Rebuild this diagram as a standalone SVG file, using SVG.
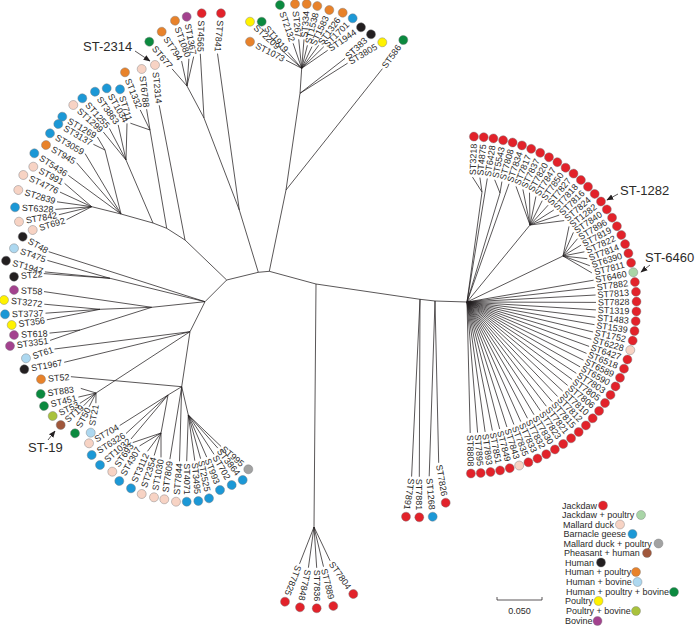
<svg xmlns="http://www.w3.org/2000/svg" width="696" height="631" viewBox="0 0 696 631">
<style>
.l{stroke:#231f20;stroke-width:0.75;fill:none}
text{font-family:"Liberation Sans",Arial,sans-serif;font-size:9px;fill:#2b2a29}
.e{text-anchor:end}
.big{font-size:13px}
circle{stroke:#77787b;stroke-width:0.4}
.r{fill:#e2222a}.p{fill:#f7d3c4}.b{fill:#1c98d6}.k{fill:#231f20}.o{fill:#e8822a}.g{fill:#0b8a3f}.y{fill:#fff200}.lb{fill:#add8f0}.gr{fill:#a2a2a2}.br{fill:#a0573b}.ol{fill:#a9c23c}.pu{fill:#a3428e}.jp{fill:#a9d5a7}
</style>
<defs>
<marker id="ah" viewBox="0 0 10 10" refX="9" refY="5" markerWidth="7" markerHeight="7" orient="auto" markerUnits="userSpaceOnUse"><path d="M0,1L10,5L0,9z" fill="#231f20"/></marker>
</defs>
<rect width="696" height="631" fill="#fff"/>
<g id="connectors" class="l">
<path d="M226.7,280L185,240M226.7,280L205,301.7M226.7,280L258.3,272.3L269.3,271.3M258.3,272.3L239.3,210M269.3,271.3L316,284L420,299.3L435,301L467,302M269.3,271.3L286,190L300,93.3L301.7,68.3M286,190L382.4,68.7M300,93.3L345,58.4M300,93.3L347.6,63.2"/>
<path d="M301.7,68.3L286,60.2M301.7,68.3L280.1,48.8M301.7,68.3L288.1,52.4M301.7,68.3L293.1,43.3M301.7,68.3L298.7,39.3M301.7,68.3L304,39.4M301.7,68.3L307.4,45.3M301.7,68.3L312,46.6M301.7,68.3L318.7,45.3M301.7,68.3L323.8,46.7M301.7,68.3L327.7,50.3"/>
<path d="M239.3,210L217.5,53.6M239.3,210L204,118L200.3,53.8M204,118L187,86L193.7,56.6M187,86L188.9,58.8M187,86L181.6,61.1M187,86L172.1,68.9"/>
<path d="M185,240L159.2,105.3M185,240L166.7,228.3L150,130L146.6,109.2M150,130L140.2,109.9M150,130L130.4,123.2M166.7,228.3L153,223L126,160L127,123.4M126,160L118.2,124.9M126,160L109.4,128.4M126,160L103.4,132.1M153,223L121,214L105,150L97.4,137M105,150L93.4,144.3M121,214L85.1,153.6M121,214L76.7,162.8M121,214L68.3,175.4M121,214L91.7,206.7L64.6,183.4M91.7,206.7L60,192.1M91.7,206.7L57,201.8M91.7,206.7L55.4,209.4M91.7,206.7L58.9,214.7M91.7,206.7L66.6,219.6"/>
<path d="M205,301.7L48.7,251.7M205,301.7L110,278.3L47.4,260.4M110,278.3L44.9,271.9M110,278.3L43.8,273.6M205,301.7L151.7,307.3L44,291.6M151.7,307.3L100,309.3L44.3,304.2M100,309.3L45.5,313.2M100,309.3L46.8,319.8M151.7,307.3L80,330L49.5,333.1M80,330L50.1,340.4"/>
<path d="M205,301.7L190,331.7L181.7,386.7L188.3,415M190,331.7L54.5,349M190,331.7L64.2,362.3M190,331.7L96,393L80.8,388.4M96,393L78.4,397.1M96,393L79.9,403.3M96,393L83.7,405.7M96,393L89.1,406.8M96,393L95.9,403.2M181.7,386.7L70.9,376.7"/>
<path d="M181.7,386.7L168,395L119.7,425.5M168,395L126,433.5M168,395L131,439M168,395L161,433L132.7,442.6M161,433L139.6,445.9M161,433L147.5,451.3M161,433L154.2,455.5M161,433L161,457.4M181.7,386.7L169.9,459.2M181.7,386.7L179.5,461.3M188.3,415L186.7,461.2M188.3,415L194.8,460.7M188.3,415L200.6,458.7M188.3,415L206.7,457.1M188.3,415L214,454.3M188.3,415L217.8,448.1M188.3,415L221.1,446.5"/>
<path d="M316,284L314,527L299.5,563.9M314,527L308.4,567.7M314,527L316.7,567.8M314,527L323.5,566.7M314,527L330.1,560.8M420,299.3L411.6,476.6M420,299.3L419.3,476.8M435,301L429.2,476.3M435,301L438.7,462.8"/>
<path d="M472.5,177.1L482,192M479.9,177.6L482,192M482,192L467,302M487.3,178.5L467,302M494.7,179.8L500,193M501.9,181.6L500,193M500,193L467,302M509,183.8L467,302M516,186.4L530,225M522.9,189.4L530,225M529.5,192.7L530,225M535.9,196.5L530,225M542.2,200.7L530,225M548.1,205.2L530,225M553.8,210L530,225M559.2,215.1L530,225M564.2,220.6L530,225M530,225L467,302M569,226.4L563,256M573.4,232.4L563,256M577.5,238.7L563,256M581.1,245.1L563,256M584.4,251.8L563,256M587.3,258.7L563,256M589.8,265.7L563,256M591.9,272.9L563,256M563,256L467,302"/>
<path d="M467,302L593.6,280.2M467,302L594.8,287.5M467,302L595.6,295M467,302L596,302.4M467,302L595.9,309.9M467,302L595.4,317.3M467,302L594.5,324.7M467,302L593.1,332M467,302L591.3,339.3M467,302L589.1,346.4M467,302L586.5,353.4M467,302L583.5,360.2M467,302L580.1,366.9M467,302L576.3,373.3M467,302L572.1,379.5M467,302L567.6,385.4M467,302L562.7,391.1M467,302L557.6,396.5M467,302L552.1,401.5M467,302L546.3,406.2M467,302L540.3,410.6M467,302L534,414.7M467,302L527.5,418.3M467,302L520.8,421.6M467,302L513.9,424.5M467,302L506.9,427M467,302L499.7,429M467,302L492.4,430.6M467,302L485.1,431.9M467,302L477.6,432.6M467,302L470.2,433"/>
</g>
<g id="top-cluster">
<g id="n-ST1073" transform="translate(250,41.7) rotate(27.2)"><circle class="o" r="4.5"/><text x="7" dy=".35em">ST1073</text></g>
<g id="n-ST2209" transform="translate(250,21.7) rotate(42)"><circle class="y" r="4.5"/><text x="7" dy=".35em">ST2209</text></g>
<g id="n-ST1919" transform="translate(261.7,21.7) rotate(49.4)"><circle class="g" r="4.5"/><text x="7" dy=".35em">ST1919</text></g>
<g id="n-ST2132" transform="translate(280,5) rotate(71.1)"><circle class="g" r="4.5"/><text x="7" dy=".35em">ST2132</text></g>
<g id="n-ST267" transform="translate(295,4) rotate(84.1)"><circle class="o" r="4.5"/><text x="7" dy=".35em">ST267</text></g>
<g id="n-ST334" transform="translate(306.7,4) rotate(-85.6)"><circle class="o" r="4.5"/><text x="-7" dy=".35em" class="e">ST334</text></g>
<g id="n-ST1538" transform="translate(317.3,6) rotate(-75.9)"><circle class="o" r="4.5"/><text x="-7" dy=".35em" class="e">ST1538</text></g>
<g id="n-ST1583" transform="translate(329.3,10) rotate(-64.7)"><circle class="o" r="4.5"/><text x="-7" dy=".35em" class="e">ST1583</text></g>
<g id="n-ST1326" transform="translate(342.7,12.7) rotate(-53.6)"><circle class="o" r="4.5"/><text x="-7" dy=".35em" class="e">ST1326</text></g>
<g id="n-ST1701" transform="translate(352.7,18.3) rotate(-44.4)"><circle class="b" r="4.5"/><text x="-7" dy=".35em" class="e">ST1701</text></g>
<g id="n-ST1944" transform="translate(361,27.3) rotate(-34.7)"><circle class="k" r="4.5"/><text x="-7" dy=".35em" class="e">ST1944</text></g>
<g id="n-ST383" transform="translate(371,34.3) rotate(-43)"><circle class="k" r="4.5"/><text x="-7" dy=".35em" class="e">ST383</text></g>
<g id="n-ST3805" transform="translate(382.3,42.3) rotate(-31)"><circle class="y" r="4.5"/><text x="-7" dy=".35em" class="e">ST3805</text></g>
<g id="n-ST586" transform="translate(403.3,40) rotate(-54)"><circle class="g" r="4.5"/><text x="-7" dy=".35em" class="e">ST586</text></g>
</g>
<g id="left-cluster">
<g id="n-ST7841" transform="translate(221,13.3) rotate(95)"><circle class="r" r="4.5"/><text x="7" dy=".35em">ST7841</text></g>
<g id="n-ST4565" transform="translate(201.7,13.3) rotate(92)"><circle class="r" r="4.5"/><text x="7" dy=".35em">ST4565</text></g>
<g id="n-ST1367" transform="translate(186.7,16.7) rotate(80)"><circle class="pu" r="4.5"/><text x="7" dy=".35em">ST1367</text></g>
<g id="n-ST1080" transform="translate(175,20.7) rotate(70)"><circle class="o" r="4.5"/><text x="7" dy=".35em">ST1080</text></g>
<g id="n-ST794" transform="translate(161.7,31.7) rotate(56)"><circle class="o" r="4.5"/><text x="7" dy=".35em">ST794</text></g>
<g id="n-ST677" transform="translate(149.3,41.7) rotate(50)"><circle class="g" r="4.5"/><text x="7" dy=".35em">ST677</text></g>
<g id="n-ST2314" transform="translate(155,65) rotate(84)"><circle class="p" r="4.5"/><text x="7" dy=".35em">ST2314</text></g>
<g id="n-ST6788" transform="translate(141.7,69) rotate(83)"><circle class="p" r="4.5"/><text x="7" dy=".35em">ST6788</text></g>
<g id="n-ST1332" transform="translate(125,72.3) rotate(68)"><circle class="o" r="4.5"/><text x="7" dy=".35em">ST1332</text></g>
<g id="n-ST711" transform="translate(120,89.3) rotate(73)"><circle class="b" r="4.5"/><text x="7" dy=".35em">ST711</text></g>
<g id="n-ST1034" transform="translate(106.7,88.3) rotate(60)"><circle class="b" r="4.5"/><text x="7" dy=".35em">ST1034</text></g>
<g id="n-ST3863" transform="translate(95,91.7) rotate(55)"><circle class="b" r="4.5"/><text x="7" dy=".35em">ST3863</text></g>
<g id="n-ST1255" transform="translate(82.3,98.3) rotate(48)"><circle class="b" r="4.5"/><text x="7" dy=".35em">ST1255</text></g>
<g id="n-ST1299" transform="translate(73.3,105) rotate(42)"><circle class="p" r="4.5"/><text x="7" dy=".35em">ST1299</text></g>
<g id="n-ST1269" transform="translate(62.3,116.7) rotate(30)"><circle class="b" r="4.5"/><text x="7" dy=".35em">ST1269</text></g>
<g id="n-ST3137" transform="translate(58.3,124) rotate(30)"><circle class="b" r="4.5"/><text x="7" dy=".35em">ST3137</text></g>
<g id="n-ST3059" transform="translate(50,133.3) rotate(30)"><circle class="b" r="4.5"/><text x="7" dy=".35em">ST3059</text></g>
<g id="n-ST945" transform="translate(46,145) rotate(30)"><circle class="o" r="4.5"/><text x="7" dy=".35em">ST945</text></g>
<g id="n-ST5436" transform="translate(34.3,153.3) rotate(33)"><circle class="b" r="4.5"/><text x="7" dy=".35em">ST5436</text></g>
<g id="n-ST991" transform="translate(33.3,166.7) rotate(28)"><circle class="p" r="4.5"/><text x="7" dy=".35em">ST991</text></g>
<g id="n-ST4776" transform="translate(23.3,175) rotate(25)"><circle class="p" r="4.5"/><text x="7" dy=".35em">ST4776</text></g>
<g id="n-ST2839" transform="translate(18.3,190) rotate(17)"><circle class="p" r="4.5"/><text x="7" dy=".35em">ST2839</text></g>
<g id="n-ST6328" transform="translate(15,207.3) rotate(3)"><circle class="b" r="4.5"/><text x="7" dy=".35em">ST6328</text></g>
<g id="n-ST7842" transform="translate(19,221.7) rotate(-10)"><circle class="p" r="4.5"/><text x="7" dy=".35em">ST7842</text></g>
<g id="n-ST692" transform="translate(32.7,230) rotate(-17)"><circle class="p" r="4.5"/><text x="7" dy=".35em">ST692</text></g>
<g id="n-ST48" transform="translate(22.7,236.7) rotate(30)"><circle class="k" r="4.5"/><text x="7" dy=".35em">ST48</text></g>
<g id="n-ST475" transform="translate(14,248.3) rotate(20)"><circle class="lb" r="4.5"/><text x="7" dy=".35em">ST475</text></g>
<g id="n-ST1947" transform="translate(6,260.7) rotate(16)"><circle class="k" r="4.5"/><text x="7" dy=".35em">ST1947</text></g>
<g id="n-ST22" transform="translate(14,276.7) rotate(-6)"><circle class="k" r="4.5"/><text x="7" dy=".35em">ST22</text></g>
<g id="n-ST58" transform="translate(14,290) rotate(3)"><circle class="pu" r="4.5"/><text x="7" dy=".35em">ST58</text></g>
<g id="n-ST3272" transform="translate(4,300) rotate(6)"><circle class="y" r="4.5"/><text x="7" dy=".35em">ST3272</text></g>
<g id="n-ST3737" transform="translate(5,314.3) rotate(-1.5)"><circle class="b" r="4.5"/><text x="7" dy=".35em">ST3737</text></g>
<g id="n-ST356" transform="translate(11.7,325) rotate(-8.5)"><circle class="y" r="4.5"/><text x="7" dy=".35em">ST356</text></g>
<g id="n-ST618" transform="translate(14,335) rotate(-3)"><circle class="pu" r="4.5"/><text x="7" dy=".35em">ST618</text></g>
<g id="n-ST3351" transform="translate(10,346) rotate(-8)"><circle class="pu" r="4.5"/><text x="7" dy=".35em">ST3351</text></g>
<g id="n-ST61" transform="translate(26,358.3) rotate(-18)"><circle class="lb" r="4.5"/><text x="7" dy=".35em">ST61</text></g>
<g id="n-ST1967" transform="translate(24.3,369.3) rotate(-10)"><circle class="k" r="4.5"/><text x="7" dy=".35em">ST1967</text></g>
<g id="n-ST52" transform="translate(41,379.3) rotate(-5)"><circle class="o" r="4.5"/><text x="7" dy=".35em">ST52</text></g>
<g id="n-ST883" transform="translate(40.7,394) rotate(-8)"><circle class="g" r="4.5"/><text x="7" dy=".35em">ST883</text></g>
<g id="n-ST451" transform="translate(44,406) rotate(-14.5)"><circle class="g" r="4.5"/><text x="7" dy=".35em">ST451</text></g>
<g id="n-ST53" transform="translate(52.7,416) rotate(-25)"><circle class="ol" r="4.5"/><text x="7" dy=".35em">ST53</text></g>
<g id="n-ST19" transform="translate(60.7,425) rotate(-40)"><circle class="br" r="4.5"/><text x="7" dy=".35em">ST19</text></g>
<g id="n-ST50" transform="translate(75,433.3) rotate(-62)"><circle class="g" r="4.5"/><text x="7" dy=".35em">ST50</text></g>
<g id="n-ST21" transform="translate(90.7,432.7) rotate(-80)"><circle class="lb" r="4.5"/><text x="7" dy=".35em">ST21</text></g>
<g id="n-ST704" transform="translate(89,443.3) rotate(-30)"><circle class="p" r="4.5"/><text x="7" dy=".35em">ST704</text></g>
<g id="n-ST6326" transform="translate(91.7,455) rotate(-32)"><circle class="b" r="4.5"/><text x="7" dy=".35em">ST6326</text></g>
<g id="n-ST1032" transform="translate(100,465) rotate(-40)"><circle class="b" r="4.5"/><text x="7" dy=".35em">ST1032</text></g>
<g id="n-ST693" transform="translate(112.3,471.7) rotate(-55)"><circle class="p" r="4.5"/><text x="7" dy=".35em">ST693</text></g>
<g id="n-ST4307" transform="translate(119.3,481) rotate(-60)"><circle class="b" r="4.5"/><text x="7" dy=".35em">ST4307</text></g>
<g id="n-ST3112" transform="translate(131,488.3) rotate(-66)"><circle class="b" r="4.5"/><text x="7" dy=".35em">ST3112</text></g>
<g id="n-ST2354" transform="translate(141.7,494) rotate(-72)"><circle class="p" r="4.5"/><text x="7" dy=".35em">ST2354</text></g>
<g id="n-ST1030" transform="translate(154,497.3) rotate(-80)"><circle class="p" r="4.5"/><text x="7" dy=".35em">ST1030</text></g>
<g id="n-ST7809" transform="translate(164.3,499.3) rotate(-82)"><circle class="p" r="4.5"/><text x="7" dy=".35em">ST7809</text></g>
<g id="n-ST7844" transform="translate(176,501.7) rotate(-85)"><circle class="p" r="4.5"/><text x="7" dy=".35em">ST7844</text></g>
<g id="n-ST4071" transform="translate(186.7,501.7) rotate(90)"><circle class="b" r="4.5"/><text x="-7" dy=".35em" class="e">ST4071</text></g>
<g id="n-ST3495" transform="translate(198.3,501) rotate(85)"><circle class="b" r="4.5"/><text x="-7" dy=".35em" class="e">ST3495</text></g>
<g id="n-ST2525" transform="translate(209,498.3) rotate(78)"><circle class="b" r="4.5"/><text x="-7" dy=".35em" class="e">ST2525</text></g>
<g id="n-ST993" transform="translate(220,490) rotate(68)"><circle class="b" r="4.5"/><text x="-7" dy=".35em" class="e">ST993</text></g>
<g id="n-ST702" transform="translate(231.7,485) rotate(60)"><circle class="b" r="4.5"/><text x="-7" dy=".35em" class="e">ST702</text></g>
<g id="n-ST3864" transform="translate(242.7,480) rotate(52)"><circle class="b" r="4.5"/><text x="-7" dy=".35em" class="e">ST3864</text></g>
<g id="n-ST995" transform="translate(248.3,469.3) rotate(40)"><circle class="gr" r="4.5"/><text x="-7" dy=".35em" class="e">ST995</text></g>
</g>
<g id="bottom-cluster">
<g id="n-ST7825" transform="translate(285,601.7) rotate(111)"><circle class="r" r="4.5"/><text x="-7" dy=".35em" class="e">ST7825</text></g>
<g id="n-ST7848" transform="translate(300,607.3) rotate(102)"><circle class="r" r="4.5"/><text x="-7" dy=".35em" class="e">ST7848</text></g>
<g id="n-ST7836" transform="translate(316.7,608.3) rotate(90)"><circle class="r" r="4.5"/><text x="-7" dy=".35em" class="e">ST7836</text></g>
<g id="n-ST7889" transform="translate(333.3,606) rotate(76)"><circle class="r" r="4.5"/><text x="-7" dy=".35em" class="e">ST7889</text></g>
<g id="n-ST7804" transform="translate(353.3,594) rotate(55)"><circle class="r" r="4.5"/><text x="-7" dy=".35em" class="e">ST7804</text></g>
<g id="n-ST7891" transform="translate(406,516.7) rotate(98)"><circle class="r" r="4.5"/><text x="-7" dy=".35em" class="e">ST7891</text></g>
<g id="n-ST7881" transform="translate(419.3,517.3) rotate(90)"><circle class="r" r="4.5"/><text x="-7" dy=".35em" class="e">ST7881</text></g>
<g id="n-ST1268" transform="translate(432.7,516.7) rotate(85)"><circle class="b" r="4.5"/><text x="-7" dy=".35em" class="e">ST1268</text></g>
<g id="n-ST7826" transform="translate(445.7,502.7) rotate(80)"><circle class="r" r="4.5"/><text x="-7" dy=".35em" class="e">ST7826</text></g>
</g>
<g id="right-cluster">
<g id="n-ST3218" transform="translate(473.9,136.6) rotate(-88)"><circle class="r" r="4.5"/><text x="-7" dy=".35em" class="e">ST3218</text></g>
<g id="n-ST4875" transform="translate(483.7,137.2) rotate(-84.66)"><circle class="r" r="4.5"/><text x="-7" dy=".35em" class="e">ST4875</text></g>
<g id="n-ST6428" transform="translate(493.4,138.4) rotate(-81.32)"><circle class="r" r="4.5"/><text x="-7" dy=".35em" class="e">ST6428</text></g>
<g id="n-ST5543" transform="translate(503.1,140.2) rotate(-77.98)"><circle class="r" r="4.5"/><text x="-7" dy=".35em" class="e">ST5543</text></g>
<g id="n-ST7808" transform="translate(512.6,142.5) rotate(-74.64)"><circle class="r" r="4.5"/><text x="-7" dy=".35em" class="e">ST7808</text></g>
<g id="n-ST7834" transform="translate(522,145.4) rotate(-71.3)"><circle class="r" r="4.5"/><text x="-7" dy=".35em" class="e">ST7834</text></g>
<g id="n-ST7817" transform="translate(531.2,148.8) rotate(-67.96)"><circle class="r" r="4.5"/><text x="-7" dy=".35em" class="e">ST7817</text></g>
<g id="n-ST7837" transform="translate(540.2,152.8) rotate(-64.62)"><circle class="r" r="4.5"/><text x="-7" dy=".35em" class="e">ST7837</text></g>
<g id="n-ST7820" transform="translate(549,157.2) rotate(-61.28)"><circle class="r" r="4.5"/><text x="-7" dy=".35em" class="e">ST7820</text></g>
<g id="n-ST7847" transform="translate(557.4,162.2) rotate(-57.94)"><circle class="r" r="4.5"/><text x="-7" dy=".35em" class="e">ST7847</text></g>
<g id="n-ST7850" transform="translate(565.6,167.7) rotate(-54.6)"><circle class="r" r="4.5"/><text x="-7" dy=".35em" class="e">ST7850</text></g>
<g id="n-ST7827" transform="translate(573.5,173.6) rotate(-51.26)"><circle class="r" r="4.5"/><text x="-7" dy=".35em" class="e">ST7827</text></g>
<g id="n-ST7818" transform="translate(580.9,180) rotate(-47.92)"><circle class="r" r="4.5"/><text x="-7" dy=".35em" class="e">ST7818</text></g>
<g id="n-ST7816" transform="translate(588,186.7) rotate(-44.58)"><circle class="r" r="4.5"/><text x="-7" dy=".35em" class="e">ST7816</text></g>
<g id="n-ST7824" transform="translate(594.7,193.9) rotate(-41.24)"><circle class="r" r="4.5"/><text x="-7" dy=".35em" class="e">ST7824</text></g>
<g id="n-ST1282" transform="translate(601,201.5) rotate(-37.9)"><circle class="r" r="4.5"/><text x="-7" dy=".35em" class="e">ST1282</text></g>
<g id="n-ST7840" transform="translate(606.8,209.4) rotate(-34.56)"><circle class="r" r="4.5"/><text x="-7" dy=".35em" class="e">ST7840</text></g>
<g id="n-ST7896" transform="translate(612.1,217.7) rotate(-31.22)"><circle class="r" r="4.5"/><text x="-7" dy=".35em" class="e">ST7896</text></g>
<g id="n-ST7819" transform="translate(616.9,226.2) rotate(-27.88)"><circle class="r" r="4.5"/><text x="-7" dy=".35em" class="e">ST7819</text></g>
<g id="n-ST7822" transform="translate(621.3,235) rotate(-24.54)"><circle class="r" r="4.5"/><text x="-7" dy=".35em" class="e">ST7822</text></g>
<g id="n-ST7814" transform="translate(625.1,244.1) rotate(-21.2)"><circle class="r" r="4.5"/><text x="-7" dy=".35em" class="e">ST7814</text></g>
<g id="n-ST6390" transform="translate(628.4,253.3) rotate(-17.86)"><circle class="r" r="4.5"/><text x="-7" dy=".35em" class="e">ST6390</text></g>
<g id="n-ST7811" transform="translate(631.1,262.8) rotate(-14.52)"><circle class="r" r="4.5"/><text x="-7" dy=".35em" class="e">ST7811</text></g>
<g id="n-ST6460" transform="translate(633.3,272.3) rotate(-11.18)"><circle class="jp" r="4.5"/><text x="-7" dy=".35em" class="e">ST6460</text></g>
<g id="n-ST7882" transform="translate(634.9,282) rotate(-7.84)"><circle class="r" r="4.5"/><text x="-7" dy=".35em" class="e">ST7882</text></g>
<g id="n-ST7813" transform="translate(636,291.8) rotate(-4.5)"><circle class="r" r="4.5"/><text x="-7" dy=".35em" class="e">ST7813</text></g>
<g id="n-ST7828" transform="translate(636.5,301.6) rotate(-1.16)"><circle class="r" r="4.5"/><text x="-7" dy=".35em" class="e">ST7828</text></g>
<g id="n-ST1319" transform="translate(636.4,311.4) rotate(2.18)"><circle class="r" r="4.5"/><text x="-7" dy=".35em" class="e">ST1319</text></g>
<g id="n-ST1483" transform="translate(635.7,321.2) rotate(5.52)"><circle class="r" r="4.5"/><text x="-7" dy=".35em" class="e">ST1483</text></g>
<g id="n-ST1539" transform="translate(634.5,331) rotate(8.86)"><circle class="r" r="4.5"/><text x="-7" dy=".35em" class="e">ST1539</text></g>
<g id="n-ST1752" transform="translate(632.7,340.6) rotate(12.2)"><circle class="r" r="4.5"/><text x="-7" dy=".35em" class="e">ST1752</text></g>
<g id="n-ST6228" transform="translate(630.3,350.1) rotate(15.54)"><circle class="p" r="4.5"/><text x="-7" dy=".35em" class="e">ST6228</text></g>
<g id="n-ST6427" transform="translate(627.4,359.5) rotate(18.88)"><circle class="r" r="4.5"/><text x="-7" dy=".35em" class="e">ST6427</text></g>
<g id="n-ST6518" transform="translate(624,368.7) rotate(22.22)"><circle class="r" r="4.5"/><text x="-7" dy=".35em" class="e">ST6518</text></g>
<g id="n-ST6589" transform="translate(620,377.7) rotate(25.56)"><circle class="r" r="4.5"/><text x="-7" dy=".35em" class="e">ST6589</text></g>
<g id="n-ST6590" transform="translate(615.5,386.4) rotate(28.9)"><circle class="r" r="4.5"/><text x="-7" dy=".35em" class="e">ST6590</text></g>
<g id="n-ST7803" transform="translate(610.5,394.9) rotate(32.24)"><circle class="r" r="4.5"/><text x="-7" dy=".35em" class="e">ST7803</text></g>
<g id="n-ST7805" transform="translate(605,403) rotate(35.58)"><circle class="r" r="4.5"/><text x="-7" dy=".35em" class="e">ST7805</text></g>
<g id="n-ST7806" transform="translate(599.1,410.9) rotate(38.92)"><circle class="r" r="4.5"/><text x="-7" dy=".35em" class="e">ST7806</text></g>
<g id="n-ST7810" transform="translate(592.7,418.3) rotate(42.26)"><circle class="r" r="4.5"/><text x="-7" dy=".35em" class="e">ST7810</text></g>
<g id="n-ST7812" transform="translate(585.9,425.4) rotate(45.6)"><circle class="r" r="4.5"/><text x="-7" dy=".35em" class="e">ST7812</text></g>
<g id="n-ST7815" transform="translate(578.7,432) rotate(48.94)"><circle class="r" r="4.5"/><text x="-7" dy=".35em" class="e">ST7815</text></g>
<g id="n-ST7821" transform="translate(571.1,438.3) rotate(52.28)"><circle class="r" r="4.5"/><text x="-7" dy=".35em" class="e">ST7821</text></g>
<g id="n-ST7823" transform="translate(563.2,444) rotate(55.62)"><circle class="r" r="4.5"/><text x="-7" dy=".35em" class="e">ST7823</text></g>
<g id="n-ST7830" transform="translate(554.9,449.4) rotate(58.96)"><circle class="r" r="4.5"/><text x="-7" dy=".35em" class="e">ST7830</text></g>
<g id="n-ST7832" transform="translate(546.3,454.2) rotate(62.3)"><circle class="r" r="4.5"/><text x="-7" dy=".35em" class="e">ST7832</text></g>
<g id="n-ST7833" transform="translate(537.5,458.5) rotate(65.64)"><circle class="r" r="4.5"/><text x="-7" dy=".35em" class="e">ST7833</text></g>
<g id="n-ST7835" transform="translate(528.4,462.3) rotate(68.98)"><circle class="r" r="4.5"/><text x="-7" dy=".35em" class="e">ST7835</text></g>
<g id="n-ST7843" transform="translate(519.2,465.5) rotate(72.32)"><circle class="p" r="4.5"/><text x="-7" dy=".35em" class="e">ST7843</text></g>
<g id="n-ST7849" transform="translate(509.7,468.2) rotate(75.66)"><circle class="r" r="4.5"/><text x="-7" dy=".35em" class="e">ST7849</text></g>
<g id="n-ST7851" transform="translate(500.1,470.4) rotate(79)"><circle class="r" r="4.5"/><text x="-7" dy=".35em" class="e">ST7851</text></g>
<g id="n-ST7893" transform="translate(490.5,472) rotate(82.34)"><circle class="r" r="4.5"/><text x="-7" dy=".35em" class="e">ST7893</text></g>
<g id="n-ST7895" transform="translate(480.7,473) rotate(85.68)"><circle class="r" r="4.5"/><text x="-7" dy=".35em" class="e">ST7895</text></g>
<g id="n-ST8808" transform="translate(470.9,473.5) rotate(89.02)"><circle class="r" r="4.5"/><text x="-7" dy=".35em" class="e">ST8808</text></g>
</g>
<g id="callouts">
<text class="big" x="83" y="51">ST-2314</text>
<line class="l" x1="135" y1="51" x2="150" y2="61" stroke-width="1" marker-end="url(#ah)"/>
<text class="big" x="620" y="195">ST-1282</text>
<line class="l" x1="618" y1="194" x2="607" y2="200" stroke-width="1" marker-end="url(#ah)"/>
<text class="big" x="645" y="262">ST-6460</text>
<line class="l" x1="650" y1="265" x2="641" y2="272" stroke-width="1" marker-end="url(#ah)"/>
<text class="big" x="28" y="452">ST-19</text>
<line class="l" x1="48" y1="440" x2="55" y2="431" stroke-width="1" marker-end="url(#ah)"/>
</g>
<g id="legend">
<text x="562" y="508.7">Jackdaw</text><circle class="r" cx="603" cy="505.5" r="4.5"/>
<text x="562" y="518.2">Jackdaw + poultry</text><circle class="jp" cx="641" cy="515" r="4.5"/>
<text x="563" y="527.7">Mallard duck</text><circle class="p" cx="620" cy="524.5" r="4.5"/>
<text x="563.5" y="537.2">Barnacle geese</text><circle class="b" cx="632.5" cy="534" r="4.5"/>
<text x="563.5" y="546.7">Mallard duck + poultry</text><circle class="gr" cx="658.5" cy="543.5" r="4.5"/>
<text x="564" y="556.2">Pheasant + human</text><circle class="br" cx="647" cy="553" r="4.5"/>
<text x="565" y="565.7">Human</text><circle class="k" cx="601" cy="562.5" r="4.5"/>
<text x="565" y="575.2">Human + poultry</text><circle class="o" cx="636" cy="572" r="4.5"/>
<text x="566" y="585.2">Human + bovine</text><circle class="lb" cx="637.5" cy="582" r="4.5"/>
<text x="566" y="595.2">Human + poultry + bovine</text><circle class="g" cx="674" cy="592" r="4.5"/>
<text x="565" y="604.2">Poultry</text><circle class="y" cx="598.5" cy="601" r="4.5"/>
<text x="566" y="614.2">Poultry + bovine</text><circle class="ol" cx="636" cy="611" r="4.5"/>
<text x="565" y="624.2">Bovine</text><circle class="pu" cx="597.5" cy="621" r="4.5"/>
</g>
<g id="scale">
<path class="l" d="M497,597v3h45v-3"/>
<text x="519.5" y="614" text-anchor="middle" font-size="7">0.050</text>
</g>
</svg>
